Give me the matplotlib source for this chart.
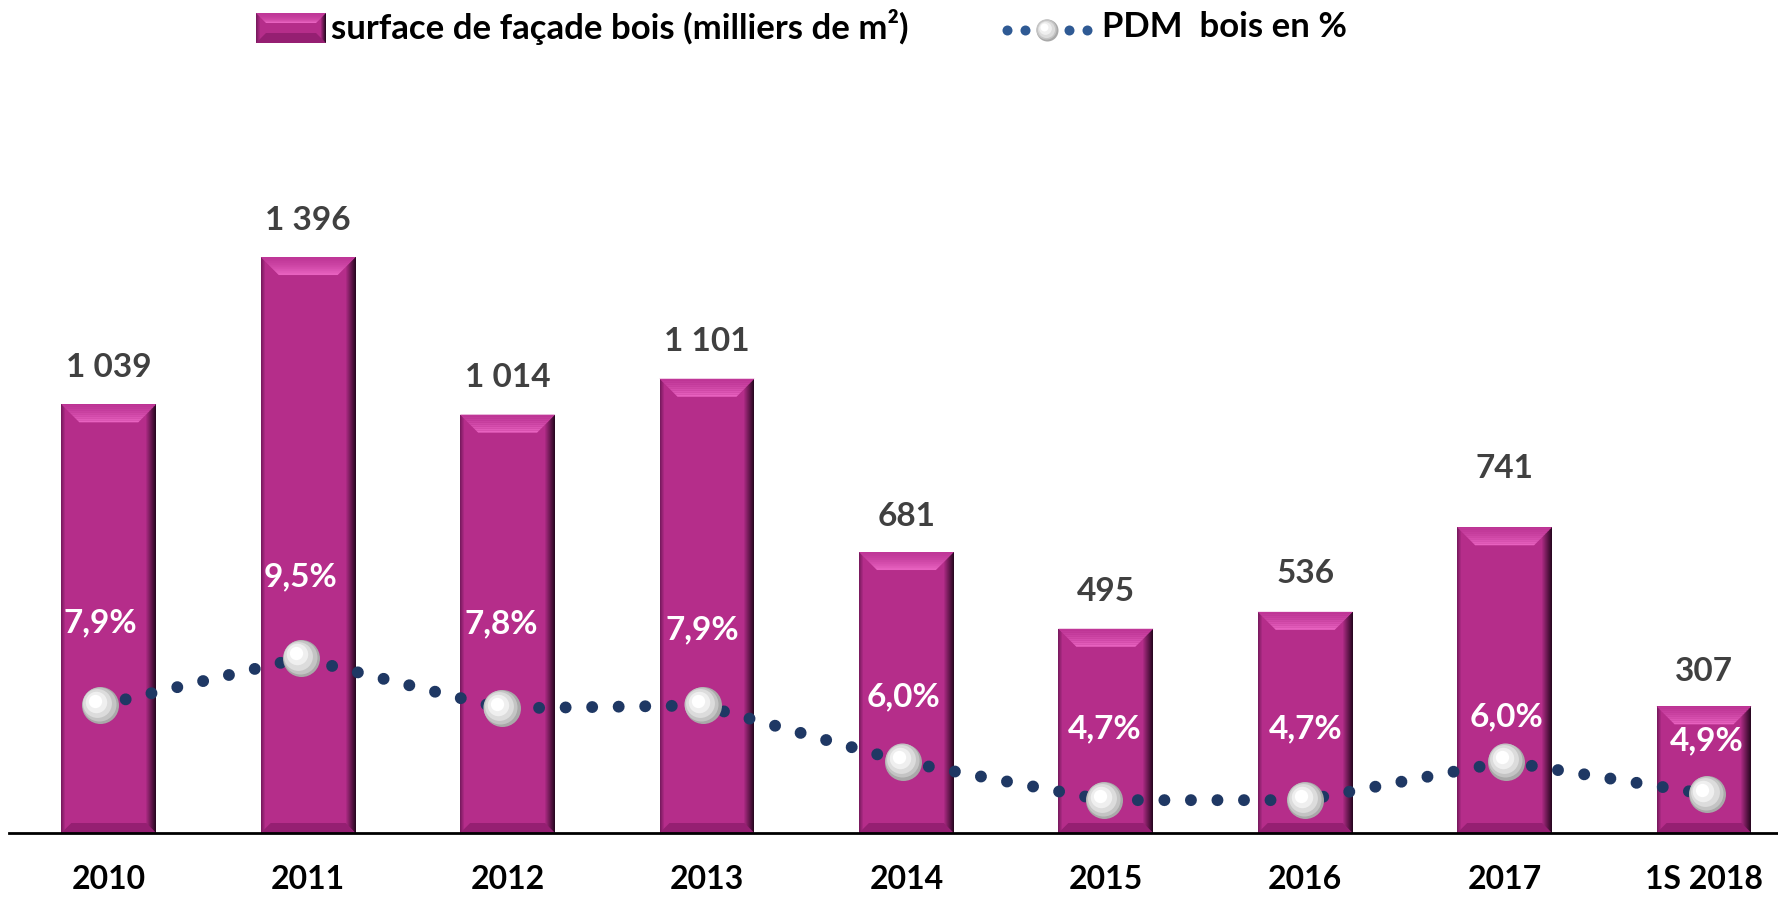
import numpy as np
import matplotlib
matplotlib.use('Agg')
import matplotlib.pyplot as plt
from matplotlib.patches import Polygon, Rectangle
from matplotlib.lines import Line2D
from matplotlib.transforms import IdentityTransform, offset_copy
import matplotlib.colors as mcolors

# ---------------- data ----------------
categories = ['2010', '2011', '2012', '2013', '2014', '2015', '2016', '2017', '1S 2018']
surface = [1039, 1396, 1014, 1101, 681, 495, 536, 741, 307]
surface_labels = ['1 039', '1 396', '1 014', '1 101', '681', '495', '536', '741', '307']
pdm = [7.9, 9.5, 7.8, 7.9, 6.0, 4.7, 4.7, 6.0, 4.9]
pdm_labels = ['7,9%', '9,5%', '7,8%', '7,9%', '6,0%', '4,7%', '4,7%', '6,0%', '4,9%']
legend_bar = 'surface de façade bois (milliers de m²)'
legend_line = 'PDM  bois en %'

# label offsets (pixels, style only)
value_label_dy = [37, 37, 37, 37, 36, 37, 38, 59, 35]
pct_label_dy = [83, 81, 85, 76, 65, 71, 71, 45, 53]

FONT = ['Lato', 'DejaVu Sans']
plt.rcParams['font.family'] = FONT

W, H, DPI = 1778, 897, 100
BAR = '#B52D8A'
NAVY = '#1F3864'

fig = plt.figure(figsize=(W / DPI, H / DPI), dpi=DPI)
fig.patch.set_facecolor('white')
ax = fig.add_axes([9 / W, 64 / H, 1769 / W, 833 / H])
ax.patch.set_visible(False)
x = np.arange(len(categories))
ax.set_xlim(-0.5005, 8.371)
ax.set_ylim(0, 2019)
for s in ['top', 'left', 'right']:
    ax.spines[s].set_visible(False)
ax.spines['bottom'].set_linewidth(2.0)
ax.spines['bottom'].set_color('black')
ax.set_xticks([])
ax.set_yticks([])

bars = ax.bar(x, surface, width=0.476, color=BAR, zorder=2, linewidth=0)

ID = IdentityTransform()


def mix(c1, c2, t):
    a = np.array(mcolors.to_rgb(c1))
    b = np.array(mcolors.to_rgb(c2))
    return tuple(a + (b - a) * t)


def bevel(x0, x1, y0, y1, z, add, ht=18, nr=10):
    """beveled decoration in display pixel coords (y0 bottom, y1 top)"""
    for i in range(nr):
        c = mix('#2A0722', BAR, i / nr)
        add(Polygon([[x1 - i - 1, y0 + i], [x1 - i, y0 + i], [x1 - i, y1 - i], [x1 - i - 1, y1 - i]],
                    closed=True, facecolor=c, edgecolor='none', transform=ID, zorder=z))
    for i in range(4):
        c = mix('#7A1A60', BAR, i / 4)
        add(Polygon([[x0 + i, y0 + i], [x0 + i + 1, y0 + i], [x0 + i + 1, y1 - i], [x0 + i, y1 - i]],
                    closed=True, facecolor=c, edgecolor='none', transform=ID, zorder=z))
    hb = min(10, (y1 - y0) / 3)
    add(Polygon([[x0, y0], [x1, y0], [x1 - hb, y0 + hb], [x0 + hb, y0 + hb]], closed=True,
                facecolor='#951F72', edgecolor='none', transform=ID, zorder=z))
    ht = min(ht, (y1 - y0) / 2)
    m = 9
    for k in range(m):
        t0 = k / m
        t1 = (k + 1) / m
        ya = y1 - ht * t0
        yb = y1 - ht * t1
        c = mix('#BE3596', '#E862C0', t1 ** 1.5)
        add(Polygon([[x0 + ht * t0, ya], [x1 - ht * t0, ya], [x1 - ht * t1, yb], [x0 + ht * t1, yb]],
                    closed=True, facecolor=c, edgecolor='none', transform=ID, zorder=z))


for b in bars:
    (px0, py0), (px1, py1) = ax.transData.transform([[b.get_x(), 0], [b.get_x() + b.get_width(), b.get_height()]])
    bevel(px0, px1, py0, py1, 2.1, ax.add_artist)

# value labels
for xi, v, lab, dy in zip(x, surface, surface_labels, value_label_dy):
    ax.annotate(lab, (xi, v), xytext=(0, dy), textcoords='offset pixels', ha='center', va='center',
                fontsize=24, fontweight='bold', color='#404040', zorder=5)

# category labels
tlab = offset_copy(ax.get_xaxis_transform(), fig=fig, x=0, y=-46, units='dots')
for xi, c in zip(x, categories):
    ax.text(xi, 0, c, transform=tlab, ha='center', va='center', fontsize=23, fontweight='bold',
            color='black', clip_on=False)

# secondary axis for PDM
ax2 = ax.twinx()
ax2.patch.set_visible(False)
ax2.set_ylim(3.59, 3.59 + 833 / 29.6)
for s in ax2.spines.values():
    s.set_visible(False)
ax2.set_yticks([])
ax2.set_xlim(ax.get_xlim())

# the line series sits on a slightly wider category spacing than the bars
x_line = x * 1.0075 - 0.045

DOTS = (0, (0.001, 2.22))
ax2.plot(x_line, pdm, color=NAVY, lw=8.6, linestyle=DOTS, dash_capstyle='round', zorder=3)

PX = 72 / DPI  # points per pixel


def sphere(xs, ys, base_tr, z, plot, d=37):
    layers = [(1.0, 0, '#A9A9A9'), (0.92, 1.2, '#C4C4C4'), (0.78, 2.4, '#DCDCDC'),
              (0.58, 3.6, '#EFEFEF'), (0.36, 4.6, '#FFFFFF')]
    for k, (f, off, c) in enumerate(layers):
        o = off * d / 37
        tr = offset_copy(base_tr, fig=fig, x=-o, y=o, units='dots') if o else base_tr
        plot(xs, ys, tr, d * f * PX, c, z + 0.01 * k)


def ax2plot(xs, ys, tr, ms, c, z):
    ax2.plot(xs, ys, linestyle='none', marker='o', ms=ms, mfc=c, mec='none', transform=tr, zorder=z)


sphere(x_line, pdm, ax2.transData, 4, ax2plot)

for xi, v, lab, dy in zip(x_line, pdm, pdm_labels, pct_label_dy):
    ax2.annotate(lab, (xi, v), xytext=(0, dy), textcoords='offset pixels', ha='center', va='center',
                 fontsize=24, fontweight='bold', color='white', zorder=6)

# ---------------- legend (figure level) ----------------
lx0, lx1, ly0, ly1 = 256, 326, H - 43, H - 13
fig.add_artist(Rectangle((lx0, ly0), lx1 - lx0, ly1 - ly0, facecolor=BAR, edgecolor='none',
                         transform=ID, zorder=5))


def fig_add_z(a):
    a.set_zorder(a.get_zorder() + 5)
    fig.add_artist(a)


bevel(lx0, lx1, ly0, ly1, 0.5, fig_add_z, ht=10, nr=5)
fig.text(331 / W, 1 - 27 / H, legend_bar, ha='left', va='center', fontsize=25, fontweight='bold',
         color='black', zorder=6)

ly = H - 30
fig.add_artist(Line2D([1007, 1025, 1069, 1087], [ly] * 4, linestyle='none', marker='o',
                      ms=10 * PX, mfc='#2F5A94', mec='none', transform=ID, zorder=5))


def figplot(xs, ys, tr, ms, c, z):
    fig.add_artist(Line2D(xs, ys, linestyle='none', marker='o', ms=ms, mfc=c, mec='none',
                          transform=tr, zorder=z + 2))


sphere([1047], [ly], ID, 4, figplot, d=22)
fig.text(1102 / W, 1 - 27 / H, legend_line, ha='left', va='center', fontsize=25, fontweight='bold',
         color='black', zorder=6)

fig.savefig('out.png', dpi=DPI)
